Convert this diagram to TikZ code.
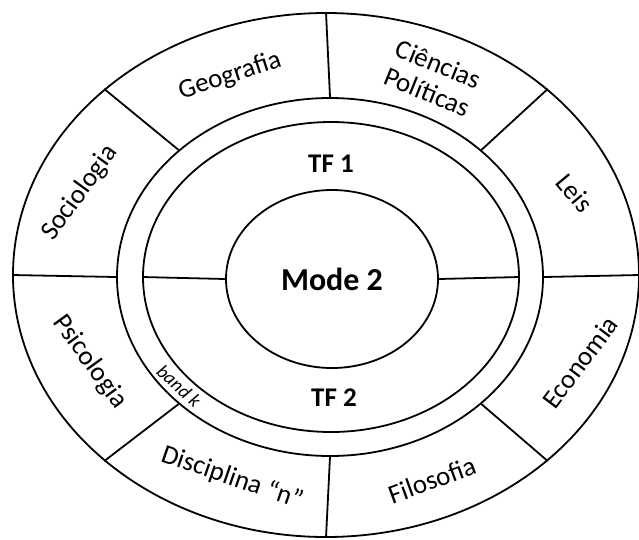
\documentclass[tikz,border=0pt]{standalone}
\usepackage{fontspec}
\setmainfont{Carlito}
\usetikzlibrary{shapes.geometric}
\tikzset{ring/.style={ellipse,draw=black,line width=1.8pt,inner sep=0pt}}
\tikzset{divider/.style={line width=1.8pt}}
\tikzset{discipline/.style={font=\fontsize{27}{30}\selectfont,align=center}}
\tikzset{tflabel/.style={font=\fontsize{27}{30}\selectfont\bfseries}}
\tikzset{bandlabel/.style={font=\fontsize{19}{22}\selectfont\itshape}}

\begin{document}
\begin{tikzpicture}[x=1pt,y=-1pt]
\useasboundingbox (0,0) rectangle (639,539);
% rings
\node (outer) [ring, minimum width=626pt, minimum height=524pt] at (326,275) {};
\node (discring) [ring, minimum width=426pt, minimum height=358pt] at (330,277) {};
\node (tf) [ring, minimum width=376pt, minimum height=310pt] at (331,277) {};
\node (mode) [ring, minimum width=212pt, minimum height=178pt, font=\fontsize{32}{36}\selectfont\bfseries] at (332,279) {Mode 2};
% dividers
\foreach \a in {0,40,90,140,180,220,270,320}
  \draw [divider] (outer.\a) -- (discring.\a);
\foreach \a in {0,180}
  \draw [divider] (tf.\a) -- (mode.\a);
% labels
\node (geo) [discipline, rotate=18] at (230,76) {Geografia};
\node (cpol) [discipline, rotate=-22] at (433,78) {Ciências\\Políticas};
\node (leis) [discipline, rotate=-50] at (575,193) {Leis};
\node (soc) [discipline, rotate=54] at (80,193) {Sociologia};
\node (psi) [discipline, rotate=-54] at (90,362) {Psicologia};
\node (eco) [discipline, rotate=53] at (580,362) {Economia};
\node (fil) [discipline, rotate=20] at (432,480) {Filosofia};
\node (disc) [discipline, rotate=-19] at (232,478) {Disciplina “n”};
\node (band) [bandlabel, rotate=-42] at (179,386) {band k};
\node (tf1) [tflabel] at (331,164) {TF 1};
\node (tf2) [tflabel] at (334,398) {TF 2};
\end{tikzpicture}
\end{document}
